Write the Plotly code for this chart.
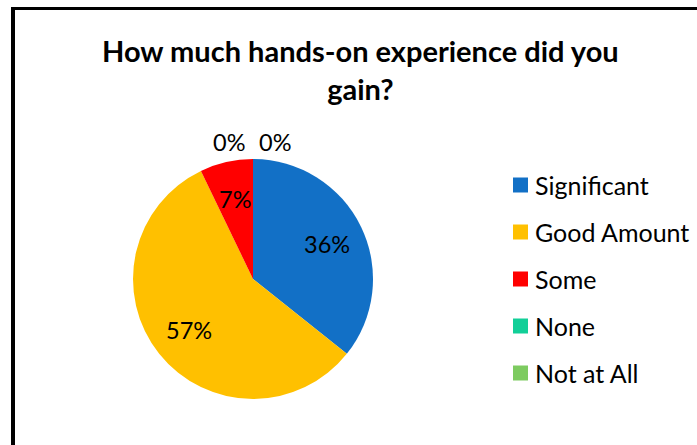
import math
import plotly.graph_objects as go

# Survey responses
categories = ["Significant", "Good Amount", "Some", "None", "Not at All"]
counts = [5, 8, 1, 0, 0]
colors = ["#1270C6", "#FFC000", "#FF0000", "#12CF98", "#7DCB60"]
title_text = "How much hands-on experience did you<br>gain?"

W, H = 697, 445
FONT = "Lato"

# Pie placement in pixels
cx, cy, r = 253, 279, 120


def px(x):
    return x / W


def py(y):
    return 1 - y / H


fig = go.Figure(
    go.Pie(
        labels=categories,
        values=counts,
        marker=dict(colors=colors, line=dict(width=0)),
        sort=False,
        direction="clockwise",
        rotation=0,
        textinfo="none",
        hoverinfo="label+percent",
        showlegend=False,
        domain=dict(x=[px(cx - r), px(cx + r)], y=[py(cy + r), py(cy - r)]),
    )
)

annotations = []
shapes = []

# Percentage labels placed at each slice's mid-angle
total = sum(counts)
cum = 0.0
zero_idx = 0
for cat, v in zip(categories, counts):
    frac = v / total
    pct = f"{round(frac * 100)}%"
    if v > 0:
        mid = cum + frac / 2
        th = 2 * math.pi * mid
        k = 0.68
        lx = cx + k * r * math.sin(th)
        ly = cy - k * r * math.cos(th)
    else:
        th = 2 * math.pi * cum
        lx = cx + (r + 17) * math.sin(th) + (-24 if zero_idx == 0 else 22)
        ly = cy - (r + 17) * math.cos(th)
        zero_idx += 1
    annotations.append(dict(
        x=px(lx), y=py(ly), xref="paper", yref="paper", text=pct,
        showarrow=False, xanchor="center", yanchor="middle",
        font=dict(family=FONT, size=23.5, color="#000000"),
    ))
    cum += frac

# Legend drawn as swatches with labels
leg_x, leg_y0, leg_dy, sw = 513, 185, 47, 15
for i, (cat, col) in enumerate(zip(categories, colors)):
    yy = leg_y0 + i * leg_dy
    shapes.append(dict(
        type="rect", xref="paper", yref="paper",
        x0=px(leg_x), x1=px(leg_x + sw), y0=py(yy + sw / 2), y1=py(yy - sw / 2),
        fillcolor=col, line=dict(width=0),
    ))
    annotations.append(dict(
        x=px(leg_x + sw + 5), y=py(yy), xref="paper", yref="paper", text=cat,
        showarrow=False, xanchor="left", yanchor="middle",
        font=dict(family=FONT, size=25, color="#000000"),
    ))

# Title
annotations.append(dict(
    x=px(360), y=py(69), xref="paper", yref="paper", text=title_text,
    showarrow=False, xanchor="center", yanchor="middle",
    font=dict(family=FONT, size=29, color="#000000", weight="bold"),
))

# Frame along the top and left edges
shapes.append(dict(type="line", xref="paper", yref="paper",
                   x0=px(11), x1=px(W + 5), y0=py(8.5), y1=py(8.5),
                   line=dict(color="#000000", width=3)))
shapes.append(dict(type="line", xref="paper", yref="paper",
                   x0=px(13), x1=px(13), y0=py(7), y1=py(H + 5),
                   line=dict(color="#000000", width=4)))

fig.update_layout(
    width=W, height=H,
    margin=dict(l=0, r=0, t=0, b=0),
    paper_bgcolor="#FFFFFF", plot_bgcolor="#FFFFFF",
    annotations=annotations, shapes=shapes,
    showlegend=False,
)

fig.write_html("out.html")
